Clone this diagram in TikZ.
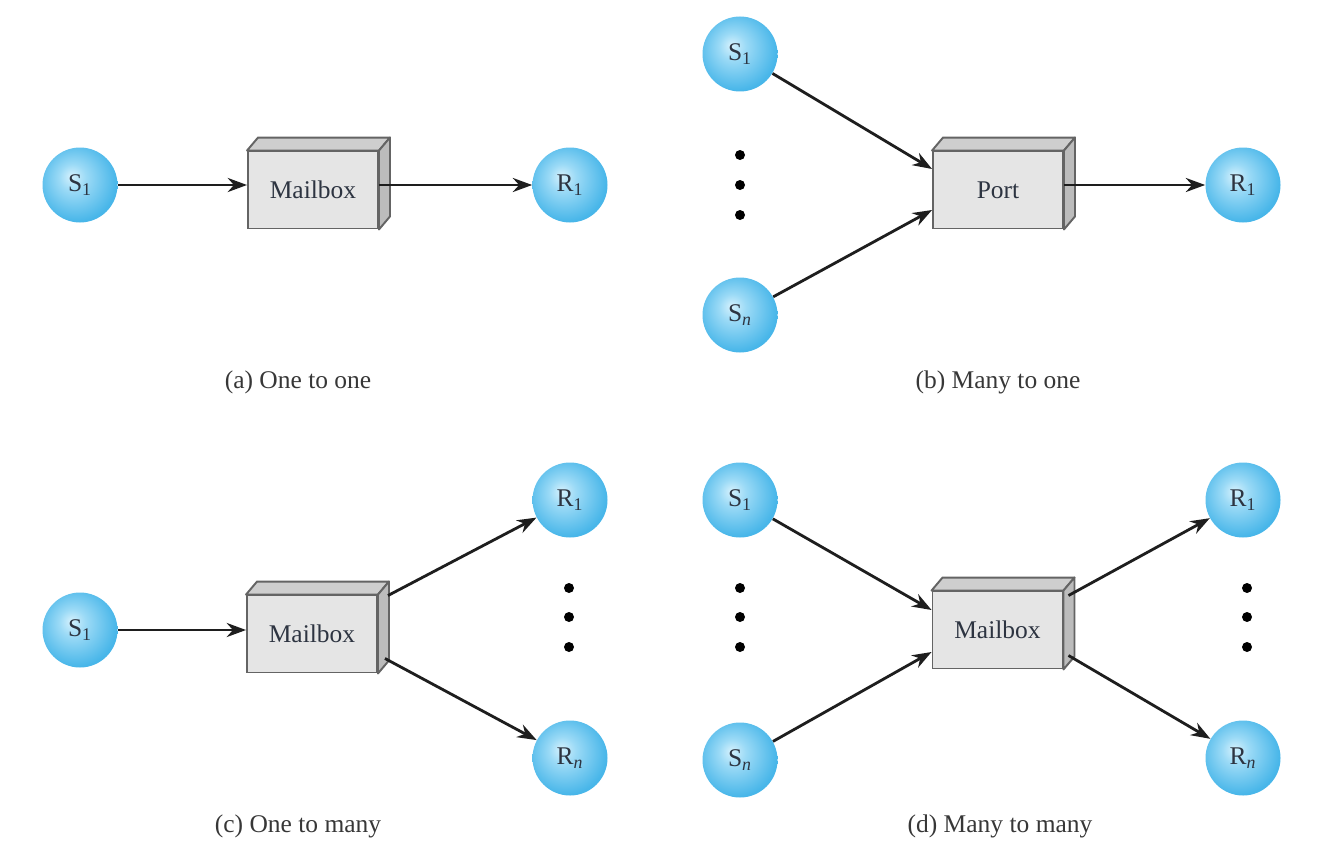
\documentclass[tikz,border=0pt]{standalone}
\usepackage{fontspec}
\setmainfont{Liberation Serif}
\usepackage{tikz}
\usetikzlibrary{arrows.meta, calc}
\definecolor{colBallIn}{RGB}{212,241,253}
\definecolor{colBallMid}{RGB}{155,218,246}
\definecolor{colBallOut}{RGB}{72,182,233}
\definecolor{colText}{RGB}{45,52,65}
\definecolor{colFront}{RGB}{229,229,229}
\definecolor{colTop}{RGB}{206,206,206}
\definecolor{colSide}{RGB}{188,188,188}
\definecolor{colEdge}{RGB}{100,100,100}
\definecolor{colArr}{RGB}{30,30,30}
\definecolor{colCap}{RGB}{55,55,55}
\pgfdeclareradialshading{sphereshade}{\pgfpoint{-6bp}{6bp}}{%
  color(0bp)=(colBallIn); color(9bp)=(colBallMid); color(27bp)=(colBallOut); color(50bp)=(colBallOut)}
\newcommand{\bigfont}{\fontsize{14.5}{17}\selectfont}
\tikzset{
  ball/.style={
    circle, minimum size=1.5cm, inner sep=0pt,
    shading=sphereshade, font=\bigfont, text=colText
  },
  mbox/.style={
    draw=colEdge, line width=1.1pt, fill=colFront,
    minimum width=2.6cm, minimum height=1.54cm, inner sep=0pt,
    font=\bigfont, text=colText
  },
  arr/.style={
    draw=colArr, line width=1.6pt, -{Stealth[length=11pt, width=8pt]}
  },
  caption/.style={
    font=\bigfont, text=colCap
  },
}
% top and side faces of a box node
\newcommand{\drawdepth}[1]{%
  \draw[colEdge, line width=1.1pt, fill=colTop, line join=round]
    (#1.north west) -- ++(0.22,0.26) -- ($(#1.north east)+(0.22,0.26)$) -- (#1.north east) -- cycle;
  \draw[colEdge, line width=1.1pt, fill=colSide, line join=round]
    (#1.north east) -- ++(0.22,0.26) -- ($(#1.south east)+(0.22,0.26)$) -- (#1.south east) -- cycle;
}

\begin{document}
\begin{tikzpicture}
\useasboundingbox (0,0) rectangle (26.48,17.16);

% ── (a) One to one ──────────────────────────────────────────────────────────
\node[ball] (sa) at (1.6,13.46) {S\textsubscript{1}};
\node[mbox] (ma) at (6.26,13.36) {Mailbox};
\drawdepth{ma}
\node[ball] (ra) at (11.4,13.46) {R\textsubscript{1}};
\draw[arr] (sa) -- (sa -| ma.west);
\draw[arr] (ra -| ma.east) -- (ra);
\node[caption] (capa) at (5.96,9.52) {(a) One to one};

% ── (b) Many to one ─────────────────────────────────────────────────────────
\node[ball] (sb1) at (14.8,16.08) {S\textsubscript{1}};
\node[ball] (sbn) at (14.8,10.86) {S\textsubscript{\itshape n}};
\foreach \y in {14.06,13.46,12.86}
  \fill (14.8,\y) circle (0.1);
\node[mbox] (pb) at (19.96,13.36) {Port};
\drawdepth{pb}
\node[ball] (rb) at (24.86,13.46) {R\textsubscript{1}};
\draw[arr] (sb1) -- ([yshift=0.42cm]pb.west);
\draw[arr] (sbn) -- ([yshift=-0.4cm]pb.west);
\draw[arr] (rb -| pb.east) -- (rb);
\node[caption] (capb) at (19.96,9.52) {(b) Many to one};

% ── (c) One to many ─────────────────────────────────────────────────────────
\node[ball] (sc) at (1.6,4.56) {S\textsubscript{1}};
\node[mbox] (mc) at (6.24,4.48) {Mailbox};
\drawdepth{mc}
\node[ball] (rc1) at (11.4,7.16) {R\textsubscript{1}};
\node[ball] (rcn) at (11.4,2.0) {R\textsubscript{\itshape n}};
\foreach \y in {5.4,4.82,4.22}
  \fill (11.38,\y) circle (0.1);
\draw[arr] (sc) -- (sc -| mc.west);
\draw[arr] ([shift={(0.2,-0.02)}]mc.north east) -- (rc1);
\draw[arr] ([shift={(0.14,0.3)}]mc.south east) -- (rcn);
\node[caption] (capc) at (5.96,0.64) {(c) One to many};

% ── (d) Many to many ────────────────────────────────────────────────────────
\node[ball] (sd1) at (14.8,7.16) {S\textsubscript{1}};
\node[ball] (sdn) at (14.8,1.96) {S\textsubscript{\itshape n}};
\foreach \y in {5.4,4.82,4.22}
  \fill (14.8,\y) circle (0.1);
\node[mbox] (md) at (19.95,4.56) {Mailbox};
\drawdepth{md}
\node[ball] (rd1) at (24.86,7.16) {R\textsubscript{1}};
\node[ball] (rdn) at (24.86,2.0) {R\textsubscript{\itshape n}};
\foreach \y in {5.4,4.82,4.22}
  \fill (24.94,\y) circle (0.1);
\draw[arr] (sd1) -- ([yshift=0.4cm]md.west);
\draw[arr] (sdn) -- ([yshift=-0.44cm]md.west);
\draw[arr] ([shift={(0.1,-0.1)}]md.north east) -- (rd1);
\draw[arr] ([shift={(0.1,0.28)}]md.south east) -- (rdn);
\node[caption] (capd) at (20.0,0.64) {(d) Many to many};

\end{tikzpicture}
\end{document}
